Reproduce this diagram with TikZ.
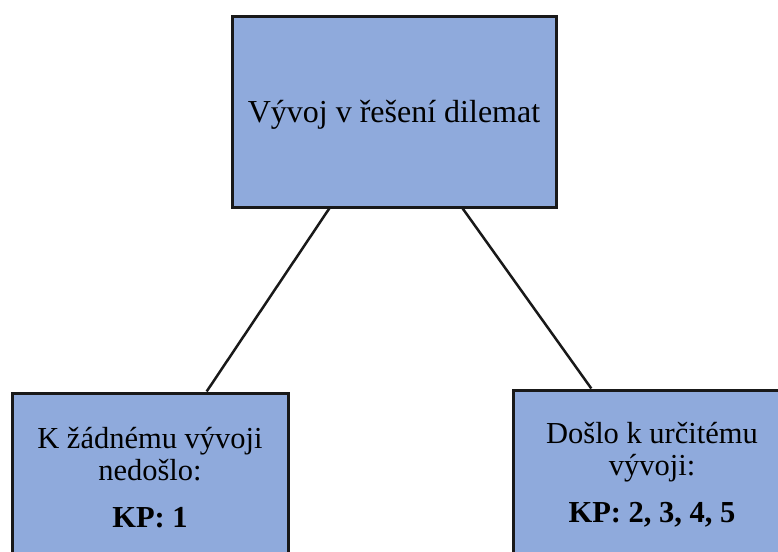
\documentclass[tikz,border=0pt]{standalone}
\usepackage{fontspec}
\setmainfont{Liberation Serif}
\usetikzlibrary{calc}
\definecolor{boxblue}{HTML}{8FAADC}
\begin{document}
\begin{tikzpicture}[x=1pt,y=-1pt,
  box/.style={draw=black!90,line width=3pt,fill=boxblue,rectangle,inner sep=0pt},
  conn/.style={draw=black!90,line width=2.5pt},
  lbl/.style={anchor=base,inner sep=0pt,font=\fontsize{30.5}{36}\selectfont}]
\useasboundingbox (0,0) rectangle (778,551);
\clip (0,0) rectangle (778,551);
\node[box,minimum width=324,minimum height=190] (top) at (394,112) {};
\node[box,minimum width=276,minimum height=180] (left) at (150,483) {};
\node[box,minimum width=278,minimum height=180] (right) at (652,480) {};
\node[anchor=base,inner sep=0pt,font=\fontsize{32}{38}\selectfont] (ttop) at (394,122) {Vývoj v řešení dilemat};
\node[lbl] (l1) at (150,448) {K žádnému vývoji};
\node[lbl] (l2) at (150,480) {nedošlo:};
\node[lbl,font=\fontsize{30.5}{36}\selectfont\bfseries] (l3) at (150,527) {KP: 1};
\node[lbl] (r1) at (652,443) {Došlo k určitému};
\node[lbl] (r2) at (652,475) {vývoji:};
\node[lbl,font=\fontsize{30.5}{36}\selectfont\bfseries] (r3) at (652,522) {KP: 2, 3, 4, 5};
\draw[conn] ($(top.south west)!0.302!(top.south east)$) -- ($(left.north west)!0.703!(left.north east)$);
\draw[conn] ($(top.south west)!0.71!(top.south east)$) -- ($(right.north west)!0.284!(right.north east)$);
\end{tikzpicture}
\end{document}
